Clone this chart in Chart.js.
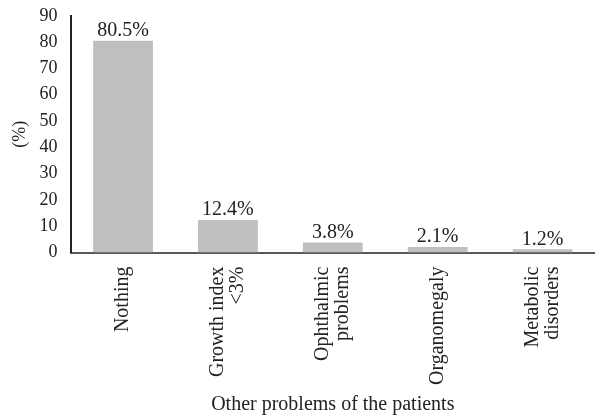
<!DOCTYPE html>
<html>
<head>
<meta charset="utf-8">
<script src="https://cdn.jsdelivr.net/npm/chart.js@4"></script>
<style>
  html, body { margin: 0; padding: 0; background: #fff; }
  #wrap { width: 595px; height: 420px; }
</style>
</head>
<body>
<div id="wrap"><canvas id="c" width="595" height="420"></canvas></div>
<script>
// Categories (multi-line labels) and percentages
const categories = [
  ["Nothing"],
  ["Growth index", "<3%"],
  ["Ophthalmic", "problems"],
  ["Organomegaly"],
  ["Metabolic", "disorders"]
];
const percentages = [80.5, 12.4, 3.8, 2.1, 1.2];
const yTicks = [0, 10, 20, 30, 40, 50, 60, 70, 80, 90];

const FONT = "'Liberation Serif', 'DejaVu Serif', serif";
const X_FONT_SIZE = 20;

// Writes each bar's value above it, positioned via the bar elements
const valueLabels = {
  id: 'valueLabels',
  afterDatasetsDraw(chart) {
    const ctx = chart.ctx;
    const meta = chart.getDatasetMeta(0);
    ctx.save();
    ctx.font = "20px " + FONT;
    ctx.fillStyle = "#222";
    ctx.textAlign = "center";
    ctx.textBaseline = "bottom";
    meta.data.forEach((bar, i) => {
      ctx.fillText(percentages[i].toFixed(1) + "%", bar.x, bar.y);
    });
    ctx.restore();
  }
};

// Centres rotated multi-line category labels on their tick
const centerMultiline = {
  id: 'centerMultiline',
  beforeDraw(chart) {
    const scale = chart.scales.x;
    const items = scale.getLabelItems(chart.chartArea);
    items.forEach(item => {
      const lines = Array.isArray(item.label) ? item.label.length : 1;
      if (lines > 1 && item.options && item.options.translation) {
        const lh = item.font && item.font.lineHeight ? item.font.lineHeight : X_FONT_SIZE;
        item.options.translation[0] -= (lines - 1) * lh / 2;
      }
    });
  }
};

new Chart(document.getElementById('c'), {
  type: 'bar',
  data: {
    labels: categories,
    datasets: [{
      data: percentages,
      backgroundColor: '#bfbfbf',
      borderWidth: 0,
      categoryPercentage: 1.0,
      barPercentage: 0.57
    }]
  },
  options: {
    responsive: false,
    animation: false,
    layout: { padding: { top: 14, right: 0, left: 9, bottom: 3 } },
    plugins: { legend: { display: false }, tooltip: { enabled: false } },
    scales: {
      x: {
        grid: { display: false },
        border: { display: true, color: '#595959', width: 2 },
        ticks: {
          color: '#222',
          font: { family: FONT, size: X_FONT_SIZE, lineHeight: 1.0 },
          minRotation: 90,
          maxRotation: 90,
          padding: 6
        },
        title: {
          display: true,
          text: 'Other problems of the patients',
          color: '#222',
          font: { family: FONT, size: 20 },
          padding: { top: 2, bottom: 0 }
        }
      },
      y: {
        min: 0,
        max: 90,
        afterBuildTicks(scale) { scale.ticks = yTicks.map(v => ({ value: v })); },
        grid: { display: false },
        border: { display: true, color: '#222', width: 2 },
        ticks: {
          color: '#222',
          font: { family: FONT, size: 18 },
          padding: 5
        },
        title: {
          display: true,
          text: '(%)',
          color: '#222',
          font: { family: FONT, size: 18 },
          padding: { top: 0, bottom: 4 }
        }
      }
    }
  },
  plugins: [valueLabels, centerMultiline]
});
</script>
</body>
</html>
